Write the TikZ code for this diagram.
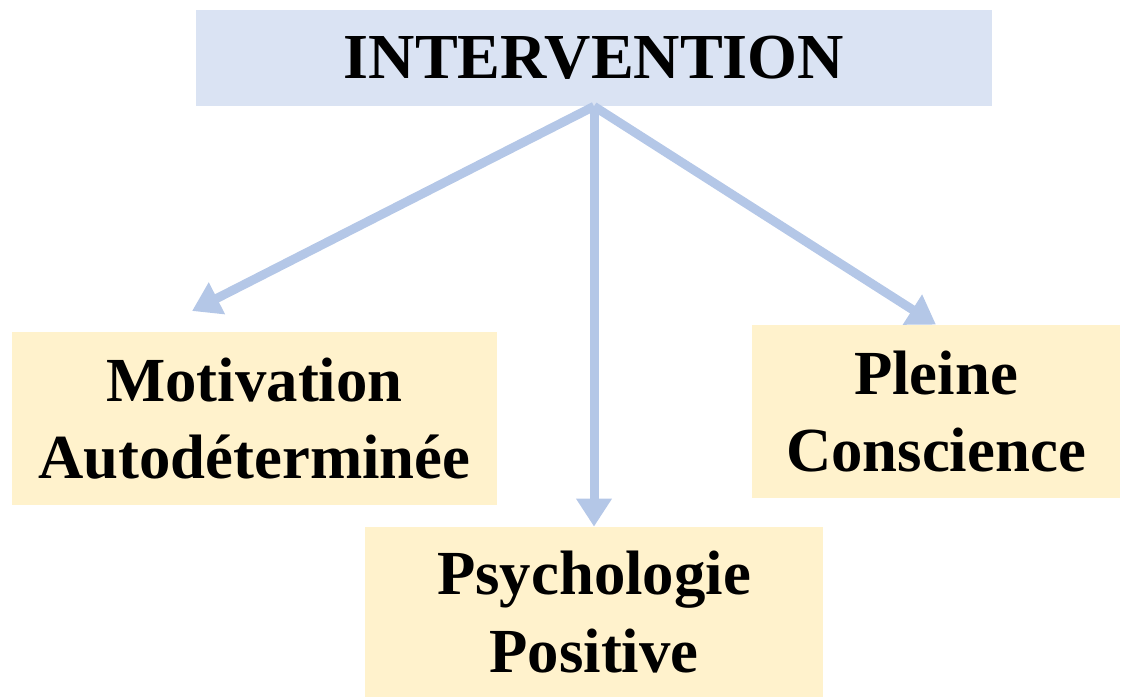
\documentclass[tikz,border=0pt]{standalone}
\usepackage{fontspec}
\setmainfont{Liberation Serif}
\usetikzlibrary{arrows.meta,positioning}

\definecolor{headblue}{HTML}{DAE3F3}
\definecolor{boxyellow}{HTML}{FFF2CC}
\definecolor{arrowblue}{HTML}{B4C7E7}

\begin{document}
\begin{tikzpicture}[%
    >={Triangle[length=0.56cm,width=0.68cm]},
    head/.style={fill=headblue, minimum width=15.92cm, minimum height=1.92cm,
        font=\fontsize{36.5}{44}\selectfont\bfseries},
    branch/.style={fill=boxyellow, minimum height=3.46cm, align=center,
        font=\fontsize{35.7}{44}\selectfont\bfseries},
    link/.style={->, arrowblue, line width=0.18cm}
    ]

    \useasboundingbox (0,0) rectangle (22.44,13.94);

    \node[head] (interv) at (11.88,12.78) {INTERVENTION};
    \node[branch, minimum width=9.7cm] (motiv) at (5.09,5.57) {Motivation\\Autodéterminée};
    \node[branch, minimum width=7.36cm] (pleine) at (18.72,5.71) {Pleine\\Conscience};
    \node[branch, minimum width=9.16cm, minimum height=3.4cm] (psych) at (11.88,1.70) {Psychologie\\Positive};

    \coordinate (mtip) at (3.84,7.72);

    \path[link] (interv.south) edge (mtip);
    \path[link] (interv.south) edge (psych.north);
    \path[link] (interv.south) edge (pleine.north);

\end{tikzpicture}
\end{document}
